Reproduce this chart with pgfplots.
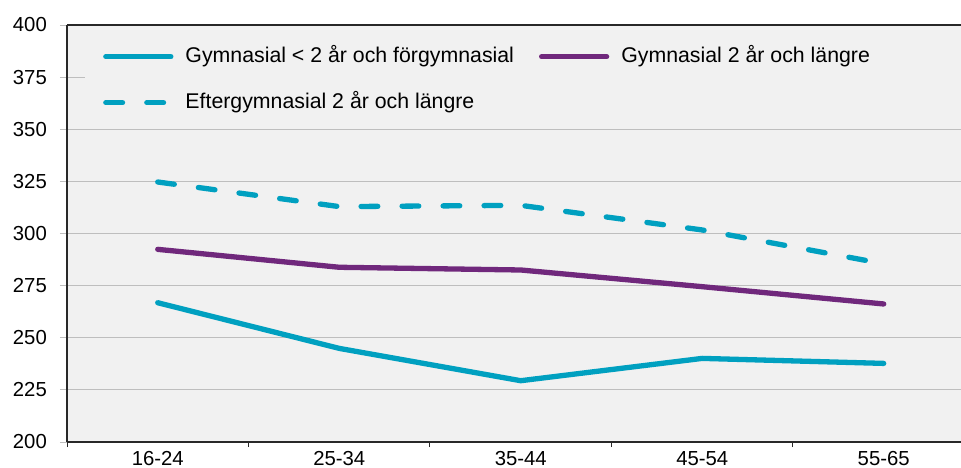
\documentclass[border=0pt]{standalone}
\usepackage{fontspec}
\setmainfont{Liberation Sans}
\usepackage{pgfplots}
\pgfplotsset{compat=1.18}
\definecolor{cy}{RGB}{0,160,192}
\definecolor{pu}{RGB}{112,40,124}
\definecolor{bgc}{RGB}{241,241,241}
\definecolor{gridc}{RGB}{190,190,190}
\definecolor{axc}{RGB}{40,40,40}
\begin{document}
\fontsize{20.3pt}{24pt}\selectfont
\begin{tikzpicture}
\begin{axis}[
  set layers,
  scale only axis, width=894pt, height=417pt,
  xmin=-0.5, xmax=4.426, ymin=200, ymax=400,
  axis background/.style={fill=bgc},
  axis x line=box, axis y line=left,
  axis line style={-, draw=axc, line width=1.2pt},
  xtick pos=left,
  tick align=outside,
  ytick={200,225,...,400},
  ymajorgrids,
  grid style={gridc, line width=1pt},
  ytick style={gridc, line width=1pt},
  major tick length=7pt,
  xtick={0,1,2,3,4},
  xticklabels={16-24,25-34,35-44,45-54,55-65},
  xtick style={draw=none},
  minor xtick={-0.5,0.5,1.5,2.5,3.5},
  minor x tick style={draw=axc, line width=1pt},
  minor tick length=5pt,
  /pgf/number format/assume math mode=true,
  ticklabel style={font=\fontsize{20.3pt}{24pt}\selectfont, text=black, inner sep=0pt},
  xticklabel style={text depth=0pt, text height=14.5pt},
  yticklabel shift=13pt,
  xticklabel shift=2pt,
  legend columns=2,
  legend cell align=left,
  legend style={draw=none, fill=none,
    at={(axis description cs:0.0369,1)}, anchor=north west, yshift=-20pt,
    font=\fontsize{21.3pt}{25pt}\selectfont,
    nodes={inner sep=0pt, text height=15pt, text depth=4pt},
    row sep=27pt,
    /tikz/every odd column/.append style={column sep=12pt},
    /tikz/every even column/.append style={column sep=25pt}},
  legend image code/.code={\draw[#1, line cap=round] (2.5pt,0pt) -- (67.5pt,0pt);},
  every axis plot/.append style={line width=5.3pt, line join=round, line cap=round},
]
\fill[bgc, on layer=axis ticks] (axis description cs:0.02,0.755) rectangle (axis description cs:1,0.998);
\addplot[cy] coordinates {(0,266.8) (1,244.9) (2,229.4) (3,240.1) (4,237.7)};
\addlegendentry{Gymnasial < 2 år och förgymnasial}
\addplot[pu] coordinates {(0,292.4) (1,283.8) (2,282.5) (3,274.5) (4,266.2)};
\addlegendentry{Gymnasial 2 år och längre}
\addplot[cy, dash pattern=on 16.7pt off 24.3pt] coordinates {(0,324.7) (1,312.9) (2,313.5) (3,301.7) (4,285.5)};
\addlegendentry{Eftergymnasial 2 år och längre}
\end{axis}
\pgfresetboundingbox
\path (-67pt,-25pt) rectangle (894pt,442pt);
\end{tikzpicture}
\end{document}
